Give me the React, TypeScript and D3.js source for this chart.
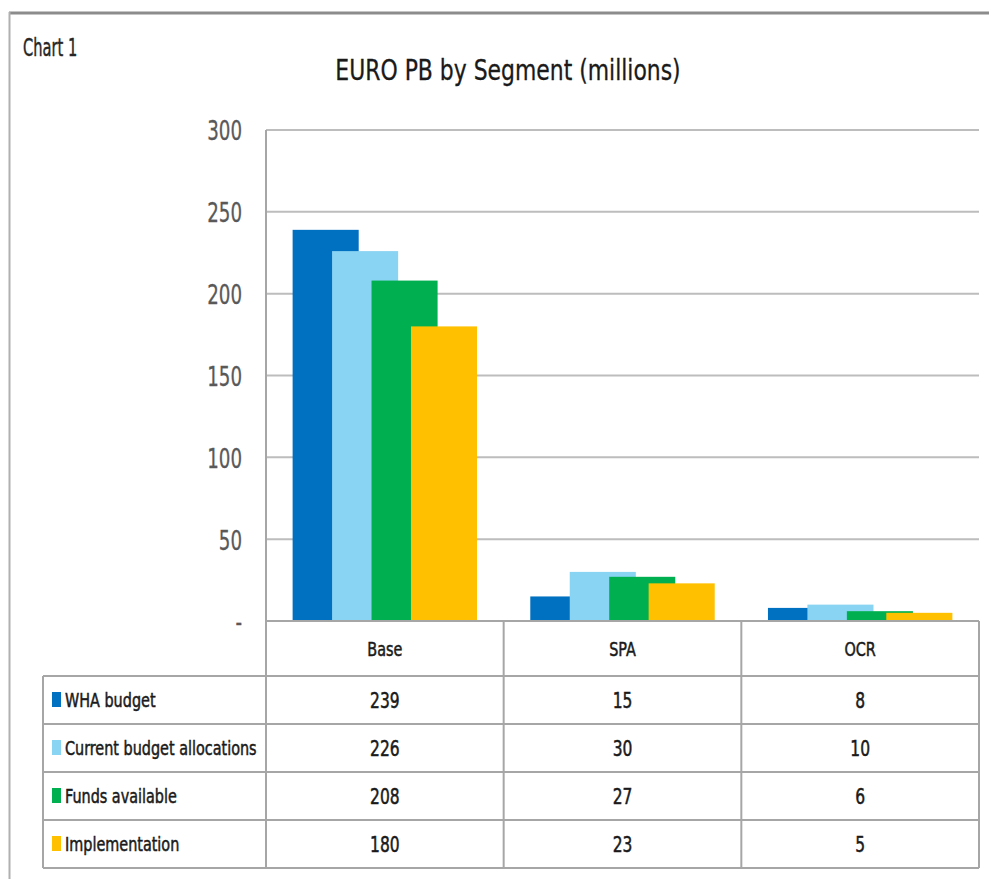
import React from "react";
import * as d3 from "d3";

// chart values
const categories = ["Base", "SPA", "OCR"];
const seriesNames = [
  "WHA budget",
  "Current budget allocations",
  "Funds available",
  "Implementation",
];
const whaBudget = [239, 15, 8];
const currentAllocations = [226, 30, 10];
const fundsAvailable = [208, 27, 6];
const implementation = [180, 23, 5];
const yTicks = [0, 50, 100, 150, 200, 250, 300];
const yTickLabels = ["-", "50", "100", "150", "200", "250", "300"];
const seriesColors = ["#0070C0", "#89D4F2", "#00B050", "#FFC000"];

const seriesValues = [whaBudget, currentAllocations, fundsAvailable, implementation];

const FONT = "'DejaVu Sans Condensed', 'Liberation Sans', sans-serif";

// narrow text: no Calibri here, so squeeze a condensed font horizontally
const NText = ({ x, y, sx = 0.82, sy = 1, size, anchor = "start", fill = "#1a1a1a", heavy = 0, children }: any) => (
  <g transform={`translate(${x},${y}) scale(${sx},${sy})`}>
    <text
      fontSize={size}
      textAnchor={anchor}
      dy="0.36em"
      fill={fill}
      stroke={heavy ? fill : "none"}
      strokeWidth={heavy}
    >
      {children}
    </text>
  </g>
);

const App = () => {
  const width = 989;
  const height = 879;
  const plot = { left: 266, right: 979, top: 130, bottom: 621 };
  const tableLeft = 43;
  const rowLines = [676, 724, 772, 820, 868];

  const x = d3
    .scaleBand<string>()
    .domain(categories)
    .range([plot.left, plot.right])
    .padding(0);
  const y = d3
    .scaleLinear()
    .domain([0, 300])
    .range([plot.bottom, plot.top]);

  const band = x.bandwidth();
  const barW = band * 0.278;
  const step = band * 0.166;
  // bars overlap, each series shifted by one step
  const offset = d3
    .scalePoint<number>()
    .domain(d3.range(seriesNames.length))
    .range([(-step * 3) / 2, (step * 3) / 2]);

  const rowCenters = rowLines.slice(0, -1).map((r, i) => (r + rowLines[i + 1]) / 2);

  return (
    <svg
      width={width}
      height={height}
      style={{ position: "absolute", left: 0, top: 0, background: "#fff" }}
      fontFamily={FONT}
    >
      {/* outer frame */}
      <line x1={9} x2={width} y1={13} y2={13} stroke="#8c8c8c" strokeWidth={3} />
      <line x1={9.5} x2={9.5} y1={12} y2={height} stroke="#b0b0b0" strokeWidth={2} />

      <NText x={23} y={47} size={22} sx={0.74} sy={1.12} fill="#262626" heavy={0.4}>
        Chart 1
      </NText>
      <NText x={508} y={70} size={29} sx={0.84} anchor="middle" heavy={0.3}>
        EURO PB by Segment (millions)
      </NText>

      {/* gridlines */}
      {yTicks.slice(1).map((t) => (
        <line
          key={t}
          x1={plot.left}
          x2={plot.right}
          y1={y(t)}
          y2={y(t)}
          stroke="#bdbdbd"
          strokeWidth={2}
        />
      ))}
      {yTicks.map((t, i) => (
        <NText key={t} x={242} y={y(t) + 1} size={26} sx={0.78} anchor="end" fill="#595959" heavy={0.3}>
          {yTickLabels[i]}
        </NText>
      ))}

      {/* bars */}
      {seriesValues.map((vals, s) => (
        <g key={seriesNames[s]} fill={seriesColors[s]}>
          {categories.map((c, i) => {
            const cx = (x(c) as number) + band / 2 + (offset(s) as number);
            return (
              <rect
                key={c}
                x={cx - barW / 2}
                y={y(vals[i])}
                width={barW}
                height={y(0) - y(vals[i])}
              />
            );
          })}
        </g>
      ))}

      {/* data table */}
      <g stroke="#a6a6a6" strokeWidth={2}>
        <line x1={plot.left} x2={plot.right} y1={plot.bottom} y2={plot.bottom} />
        {rowLines.map((r) => (
          <line key={r} x1={tableLeft} x2={plot.right} y1={r} y2={r} />
        ))}
        <line x1={tableLeft} x2={tableLeft} y1={rowLines[0]} y2={rowLines[rowLines.length - 1]} />
        <line x1={plot.left} x2={plot.left} y1={plot.top} y2={rowLines[rowLines.length - 1]} />
        {categories.map((c) => (
          <line
            key={c}
            x1={(x(c) as number) + band}
            x2={(x(c) as number) + band}
            y1={plot.bottom}
            y2={rowLines[rowLines.length - 1]}
          />
        ))}
      </g>
      {categories.map((c) => (
        <NText
          key={c}
          x={(x(c) as number) + band / 2}
          y={(plot.bottom + rowLines[0]) / 2}
          size={20}
          sx={0.8}
          anchor="middle"
          heavy={0.5}
        >
          {c}
        </NText>
      ))}
      {seriesNames.map((name, s) => (
        <g key={name}>
          <rect x={52} y={rowCenters[s] - 8} width={9} height={15} fill={seriesColors[s]} />
          <NText x={65} y={rowCenters[s]} size={20} sx={0.8} heavy={0.5}>
            {name}
          </NText>
          {categories.map((c, i) => (
            <NText
              key={c}
              x={(x(c) as number) + band / 2}
              y={rowCenters[s]}
              size={21}
              sx={0.82}
              anchor="middle"
              heavy={0.5}
            >
              {seriesValues[s][i]}
            </NText>
          ))}
        </g>
      ))}
    </svg>
  );
};

export default App;
